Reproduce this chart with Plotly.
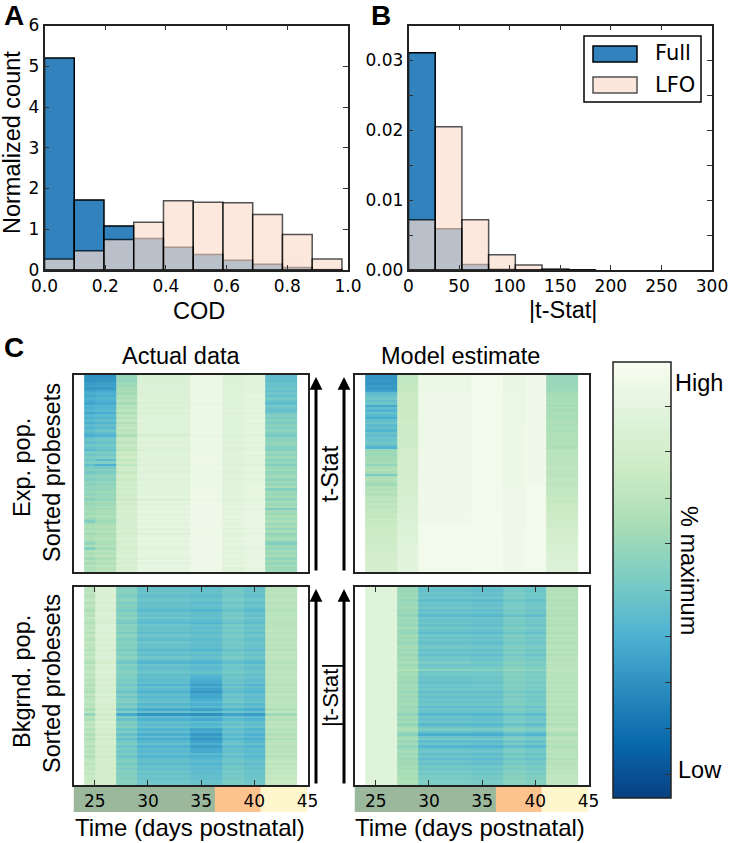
import plotly.graph_objects as go

W, H = 733, 843

# panel A
cod_edges = [0.0, 0.098, 0.196, 0.294, 0.392, 0.49, 0.588, 0.686, 0.784, 0.882]
cod_full = [5.2, 1.72, 1.08, 0.77, 0.56, 0.38, 0.24, 0.14, 0.06, 0.01]
cod_lfo = [0.27, 0.47, 0.75, 1.17, 1.7, 1.66, 1.65, 1.36, 0.87, 0.27]

# panel B
tstat_edges = [0, 26.4, 52.8, 79.2, 105.6, 132, 158.4]
tstat_full = [0.0311, 0.0059, 0.0008, 0.0001, 0.00003, 0.0, 0.0]
tstat_lfo = [0.0072, 0.0205, 0.0072, 0.0022, 0.0007, 0.00015, 0.00004]

# panel C, columns are the time points, rows go top to bottom
time_edges = [24, 25, 27, 29, 34, 37, 39, 41, 44]
row_edges = list(range(81))

actual_top = [
    [27, 27, 57, 84, 93, 85, 88, 42], [28, 28, 58, 84, 94, 86, 88, 43],
    [27, 28, 56, 83, 93, 85, 88, 42], [30, 31, 60, 85, 94, 86, 89, 45],
    [31, 32, 59, 84, 93, 86, 88, 44], [29, 30, 62, 85, 94, 87, 89, 46],
    [33, 35, 63, 85, 94, 86, 89, 44], [36, 37, 61, 84, 93, 86, 88, 47],
    [34, 36, 66, 86, 94, 87, 90, 43], [37, 39, 64, 85, 94, 86, 89, 48],
    [35, 37, 67, 86, 94, 87, 89, 45], [33, 35, 62, 84, 92, 85, 88, 42],
    [38, 40, 68, 87, 94, 87, 90, 49], [36, 38, 65, 85, 94, 86, 89, 46],
    [39, 41, 69, 86, 94, 87, 90, 44], [34, 36, 63, 84, 93, 85, 88, 47],
    [40, 42, 70, 87, 95, 88, 90, 52], [37, 39, 67, 85, 94, 86, 89, 49],
    [41, 43, 71, 87, 94, 87, 90, 53], [36, 39, 66, 85, 93, 86, 88, 50],
    [42, 44, 70, 86, 94, 87, 89, 54], [38, 40, 72, 87, 94, 87, 90, 51],
    [43, 46, 69, 85, 94, 86, 89, 55], [40, 43, 71, 86, 94, 87, 90, 52],
    [36, 38, 64, 82, 92, 84, 87, 49], [44, 46, 72, 87, 95, 87, 90, 56],
    [46, 48, 73, 87, 94, 87, 90, 54], [43, 45, 70, 86, 94, 86, 89, 57],
    [48, 49, 74, 88, 95, 88, 90, 56], [45, 47, 72, 86, 94, 86, 89, 53],
    [41, 44, 68, 84, 93, 85, 88, 51], [49, 50, 75, 88, 95, 88, 91, 58],
    [47, 48, 73, 87, 94, 87, 89, 55], [50, 51, 76, 88, 95, 88, 90, 59],
    [46, 42, 71, 86, 94, 86, 89, 54], [51, 52, 75, 87, 95, 87, 90, 57],
    [43, 37, 70, 85, 93, 85, 88, 52], [50, 49, 76, 88, 95, 88, 90, 58],
    [52, 53, 77, 88, 95, 88, 91, 60], [48, 50, 73, 86, 94, 86, 89, 56],
    [53, 54, 77, 88, 95, 88, 90, 59], [55, 56, 78, 89, 95, 88, 91, 61],
    [51, 53, 75, 87, 94, 86, 89, 55], [56, 57, 78, 89, 95, 88, 90, 60],
    [54, 55, 76, 87, 94, 87, 90, 57], [57, 58, 79, 89, 95, 89, 91, 62],
    [55, 57, 77, 88, 95, 87, 90, 53], [58, 60, 79, 89, 96, 89, 91, 60],
    [56, 58, 77, 87, 94, 87, 90, 58], [59, 60, 80, 90, 96, 89, 91, 61],
    [54, 57, 75, 84, 93, 86, 89, 55], [60, 62, 80, 90, 96, 89, 91, 63],
    [58, 60, 78, 88, 95, 88, 90, 59], [61, 63, 81, 90, 96, 90, 92, 62],
    [59, 61, 79, 89, 95, 88, 90, 51], [62, 64, 81, 90, 96, 90, 92, 61],
    [60, 62, 79, 88, 95, 88, 91, 58], [63, 65, 82, 90, 96, 90, 92, 63],
    [58, 62, 80, 89, 95, 88, 91, 60], [52, 60, 81, 90, 96, 90, 92, 64],
    [61, 64, 80, 89, 95, 88, 91, 59], [64, 66, 82, 91, 96, 90, 92, 62],
    [62, 64, 79, 88, 95, 88, 90, 57], [65, 67, 82, 90, 96, 90, 92, 63],
    [60, 63, 78, 85, 94, 87, 89, 55], [64, 66, 81, 90, 96, 89, 91, 60],
    [66, 68, 83, 91, 96, 90, 92, 63], [62, 65, 80, 89, 95, 88, 91, 58],
    [56, 64, 82, 90, 96, 90, 92, 52], [65, 67, 82, 90, 96, 89, 91, 60],
    [52, 62, 80, 89, 95, 88, 90, 57], [66, 68, 83, 91, 96, 90, 92, 62],
    [63, 66, 81, 90, 95, 89, 91, 59], [67, 69, 84, 91, 96, 90, 92, 63],
    [60, 64, 80, 89, 95, 88, 90, 56], [66, 68, 83, 91, 96, 90, 92, 61],
    [62, 65, 81, 89, 95, 88, 91, 57], [68, 70, 84, 92, 96, 90, 92, 62],
    [64, 67, 82, 90, 95, 86, 90, 58], [66, 69, 83, 91, 96, 87, 91, 60],
]

model_top = [
    [28, 28, 72, 94, 97, 92, 96, 58], [28, 28, 72, 94, 97, 92, 96, 58],
    [29, 29, 72, 94, 97, 92, 96, 58], [28, 28, 72, 94, 97, 92, 96, 59],
    [30, 30, 73, 94, 97, 92, 96, 59], [29, 29, 73, 94, 97, 92, 96, 59],
    [32, 32, 73, 94, 97, 93, 96, 60], [42, 42, 74, 95, 97, 93, 96, 61],
    [45, 45, 74, 95, 97, 93, 96, 62], [47, 47, 75, 95, 97, 93, 96, 63],
    [44, 44, 74, 95, 97, 93, 96, 62], [46, 46, 75, 95, 97, 93, 96, 63],
    [34, 34, 74, 95, 97, 93, 96, 61], [43, 43, 75, 95, 97, 93, 96, 63],
    [38, 38, 75, 95, 97, 93, 96, 62], [45, 45, 75, 95, 97, 93, 96, 64],
    [40, 40, 75, 95, 97, 93, 96, 63], [36, 36, 75, 95, 97, 93, 96, 62],
    [43, 43, 76, 95, 97, 93, 96, 64], [46, 46, 76, 95, 97, 93, 96, 65],
    [41, 41, 76, 95, 97, 94, 96, 64], [44, 44, 76, 95, 97, 94, 96, 65],
    [39, 39, 76, 95, 97, 94, 96, 63], [45, 45, 76, 95, 97, 94, 96, 65],
    [42, 42, 76, 95, 97, 94, 96, 65], [46, 46, 77, 95, 97, 94, 96, 66],
    [44, 44, 77, 95, 97, 94, 96, 65], [47, 47, 77, 95, 97, 94, 96, 66],
    [45, 45, 77, 95, 97, 94, 96, 66], [38, 38, 76, 95, 97, 94, 96, 64],
    [58, 58, 78, 95, 97, 94, 96, 68], [60, 60, 78, 95, 97, 94, 96, 68],
    [59, 59, 78, 95, 97, 94, 96, 68], [61, 61, 78, 96, 97, 94, 96, 69],
    [60, 60, 78, 96, 97, 94, 96, 68], [62, 62, 79, 96, 97, 94, 96, 69],
    [56, 56, 78, 96, 97, 94, 96, 68], [63, 63, 79, 96, 97, 94, 96, 70],
    [65, 65, 79, 96, 97, 94, 96, 70], [62, 62, 79, 96, 97, 94, 96, 69],
    [50, 50, 78, 96, 97, 94, 96, 68], [64, 64, 80, 96, 97, 94, 96, 70],
    [66, 66, 80, 96, 97, 94, 96, 71], [63, 63, 80, 96, 97, 94, 96, 70],
    [60, 60, 79, 96, 97, 94, 96, 69], [67, 67, 81, 96, 97, 95, 97, 71],
    [65, 65, 80, 96, 97, 95, 97, 71], [68, 68, 81, 96, 97, 95, 97, 72],
    [66, 66, 81, 96, 97, 95, 97, 71], [69, 69, 82, 96, 97, 95, 97, 73],
    [70, 70, 82, 96, 97, 95, 97, 73], [68, 68, 82, 96, 97, 95, 97, 72],
    [71, 71, 83, 96, 97, 95, 97, 74], [69, 69, 82, 96, 97, 95, 97, 74],
    [72, 72, 83, 96, 97, 95, 97, 75], [71, 71, 83, 96, 97, 95, 97, 75],
    [73, 73, 84, 96, 98, 95, 97, 76], [72, 72, 84, 96, 98, 95, 97, 76],
    [74, 74, 84, 96, 98, 95, 97, 77], [73, 73, 84, 96, 98, 95, 97, 76],
    [75, 75, 85, 97, 98, 95, 97, 78], [74, 74, 85, 97, 98, 95, 97, 77],
    [75, 75, 85, 97, 98, 95, 97, 78], [76, 76, 86, 97, 98, 96, 97, 79],
    [75, 75, 86, 97, 98, 96, 97, 79], [76, 76, 86, 97, 98, 96, 97, 80],
    [77, 77, 87, 97, 98, 96, 97, 80], [76, 76, 87, 97, 98, 96, 97, 80],
    [77, 77, 87, 97, 98, 96, 97, 81], [78, 78, 88, 97, 98, 96, 97, 82],
    [77, 77, 88, 97, 98, 96, 97, 81], [78, 78, 88, 97, 98, 96, 97, 82],
    [79, 79, 88, 97, 98, 96, 97, 83], [78, 78, 88, 97, 98, 96, 97, 83],
    [79, 79, 89, 97, 98, 96, 97, 84], [78, 78, 89, 97, 98, 96, 97, 84],
    [80, 80, 89, 97, 98, 96, 97, 85], [79, 79, 89, 97, 98, 96, 97, 85],
    [80, 80, 89, 97, 98, 96, 97, 85], [80, 80, 89, 97, 98, 96, 97, 85],
]

actual_bot = [
    [69, 84, 52, 44, 43, 47, 44, 68], [68, 83, 53, 45, 44, 48, 45, 68],
    [70, 85, 54, 46, 45, 49, 46, 69], [67, 83, 51, 43, 42, 47, 44, 68],
    [69, 85, 53, 45, 44, 49, 46, 69], [71, 84, 55, 46, 45, 50, 47, 70],
    [66, 82, 50, 43, 41, 46, 43, 67], [70, 85, 54, 45, 44, 49, 46, 69],
    [68, 83, 52, 44, 43, 47, 44, 68], [64, 81, 49, 41, 39, 45, 41, 66],
    [70, 84, 54, 45, 44, 49, 45, 69], [67, 84, 52, 44, 43, 48, 44, 68],
    [72, 85, 55, 47, 45, 50, 47, 70], [68, 82, 51, 43, 42, 47, 44, 68],
    [65, 81, 49, 41, 39, 45, 42, 67], [70, 85, 54, 46, 44, 49, 46, 69],
    [68, 83, 52, 44, 42, 47, 44, 68], [71, 85, 54, 45, 44, 49, 46, 70],
    [66, 82, 50, 42, 41, 46, 43, 68], [72, 86, 55, 47, 45, 50, 47, 70],
    [69, 83, 52, 44, 43, 48, 45, 69], [67, 82, 50, 42, 41, 46, 43, 68],
    [72, 85, 54, 46, 44, 49, 46, 70], [69, 84, 52, 44, 42, 47, 45, 69],
    [70, 84, 53, 45, 43, 48, 45, 69], [66, 81, 48, 40, 38, 44, 41, 67],
    [71, 84, 53, 45, 44, 48, 46, 70], [68, 83, 51, 43, 42, 47, 44, 69],
    [72, 85, 55, 47, 45, 50, 47, 70], [69, 82, 51, 43, 42, 46, 44, 69],
    [65, 80, 47, 39, 38, 43, 40, 67], [71, 84, 53, 45, 43, 48, 46, 70],
    [68, 82, 50, 43, 41, 46, 43, 68], [70, 83, 52, 44, 42, 47, 45, 69],
    [72, 85, 54, 46, 45, 49, 46, 70], [68, 81, 50, 42, 40, 45, 43, 68],
    [71, 83, 52, 44, 38, 47, 45, 70], [67, 81, 49, 41, 36, 45, 42, 68],
    [69, 83, 51, 43, 35, 46, 44, 69], [65, 80, 47, 38, 31, 42, 39, 67],
    [70, 83, 52, 44, 36, 47, 44, 70], [67, 81, 49, 41, 32, 44, 41, 68],
    [63, 79, 45, 37, 29, 41, 38, 66], [70, 83, 51, 43, 34, 46, 44, 70],
    [66, 80, 47, 40, 33, 44, 41, 68], [69, 83, 51, 43, 36, 46, 43, 69],
    [71, 84, 53, 45, 41, 48, 45, 70], [67, 80, 48, 40, 37, 43, 41, 68],
    [70, 83, 52, 44, 41, 47, 44, 70], [62, 78, 43, 35, 32, 39, 36, 65],
    [71, 83, 52, 45, 42, 47, 45, 71], [57, 76, 35, 28, 27, 32, 30, 60],
    [69, 81, 50, 42, 40, 45, 42, 69], [64, 78, 45, 37, 35, 41, 38, 66],
    [71, 83, 52, 44, 42, 47, 44, 70], [68, 80, 49, 41, 39, 44, 42, 68],
    [72, 83, 53, 45, 43, 48, 45, 71], [66, 79, 46, 38, 33, 42, 39, 67],
    [70, 82, 51, 43, 36, 46, 43, 69], [64, 77, 44, 36, 29, 41, 37, 66],
    [70, 81, 50, 42, 33, 45, 42, 69], [63, 77, 43, 35, 28, 39, 36, 65],
    [68, 80, 48, 40, 32, 44, 40, 68], [71, 81, 51, 44, 37, 47, 44, 70],
    [66, 78, 46, 38, 31, 42, 39, 67], [70, 80, 50, 42, 35, 45, 43, 69],
    [67, 78, 47, 40, 35, 43, 41, 68], [71, 80, 51, 44, 41, 47, 44, 70],
    [66, 77, 46, 39, 37, 43, 40, 67], [70, 79, 50, 43, 40, 46, 43, 70],
    [72, 80, 52, 44, 42, 47, 45, 71], [68, 78, 48, 41, 39, 44, 42, 69],
    [72, 79, 52, 45, 42, 48, 45, 72], [70, 78, 50, 43, 41, 46, 44, 70],
    [73, 80, 53, 46, 43, 49, 46, 72], [71, 78, 51, 44, 42, 47, 45, 71],
    [74, 79, 53, 46, 44, 49, 46, 73], [72, 78, 52, 45, 43, 48, 46, 72],
    [75, 79, 54, 47, 45, 50, 47, 74], [74, 78, 54, 47, 45, 50, 47, 73],
]

model_bot = [
    [87, 87, 59, 45, 44, 49, 47, 66], [87, 87, 58, 44, 43, 48, 46, 66],
    [87, 87, 60, 46, 45, 50, 48, 67], [87, 87, 59, 45, 44, 49, 47, 66],
    [87, 87, 61, 47, 46, 51, 48, 67], [87, 87, 57, 42, 41, 46, 44, 65],
    [87, 87, 60, 46, 45, 50, 48, 67], [87, 87, 59, 45, 44, 49, 47, 66],
    [87, 87, 61, 48, 47, 51, 49, 68], [87, 87, 58, 44, 43, 48, 46, 66],
    [87, 87, 60, 46, 45, 50, 48, 67], [87, 87, 56, 41, 40, 45, 43, 65],
    [87, 87, 61, 47, 46, 51, 49, 67], [87, 87, 59, 45, 44, 49, 47, 66],
    [87, 87, 60, 46, 45, 50, 48, 67], [87, 87, 58, 44, 43, 48, 46, 66],
    [87, 87, 62, 48, 47, 52, 50, 68], [87, 87, 59, 45, 44, 49, 47, 67],
    [87, 87, 57, 42, 41, 46, 44, 65], [87, 87, 61, 47, 46, 51, 49, 68],
    [87, 87, 59, 45, 44, 49, 47, 66], [87, 87, 61, 47, 46, 51, 49, 68],
    [87, 87, 58, 44, 43, 48, 46, 66], [87, 87, 60, 46, 45, 50, 48, 67],
    [87, 87, 62, 48, 47, 52, 50, 68], [87, 87, 59, 44, 43, 48, 46, 66],
    [87, 87, 61, 47, 46, 51, 49, 68], [87, 87, 58, 43, 42, 47, 45, 66],
    [87, 87, 61, 47, 46, 51, 49, 68], [87, 87, 60, 46, 45, 50, 48, 67],
    [87, 87, 63, 50, 48, 53, 51, 69], [87, 87, 60, 46, 46, 51, 49, 67],
    [87, 87, 62, 48, 48, 53, 51, 68], [87, 87, 66, 55, 53, 57, 55, 70],
    [87, 87, 61, 47, 47, 52, 50, 68], [87, 87, 62, 48, 49, 54, 52, 68],
    [87, 87, 60, 45, 46, 51, 49, 67], [87, 87, 61, 46, 47, 53, 51, 68],
    [87, 87, 59, 44, 45, 50, 48, 67], [87, 87, 62, 47, 48, 53, 51, 69],
    [87, 87, 60, 45, 46, 51, 49, 67], [87, 87, 61, 47, 47, 52, 50, 68],
    [87, 87, 58, 43, 43, 48, 46, 66], [87, 87, 61, 46, 46, 51, 49, 68],
    [87, 87, 59, 44, 44, 49, 47, 67], [87, 87, 61, 46, 46, 51, 49, 68],
    [87, 87, 60, 45, 45, 50, 48, 67], [87, 87, 62, 47, 47, 52, 50, 69],
    [87, 87, 58, 42, 42, 47, 45, 66], [87, 87, 61, 46, 46, 51, 49, 68],
    [87, 87, 60, 45, 44, 49, 47, 67], [87, 87, 56, 40, 39, 44, 42, 65],
    [87, 87, 61, 46, 45, 50, 48, 68], [87, 87, 59, 44, 43, 48, 46, 67],
    [87, 87, 62, 47, 46, 51, 49, 69], [87, 87, 57, 40, 40, 45, 43, 65],
    [87, 87, 61, 46, 45, 50, 48, 68], [87, 87, 64, 50, 49, 54, 51, 70],
    [87, 87, 60, 44, 43, 48, 46, 67], [87, 87, 54, 36, 36, 41, 39, 63],
    [87, 87, 60, 45, 44, 49, 47, 68], [87, 87, 63, 49, 48, 53, 50, 70],
    [87, 87, 58, 42, 41, 46, 44, 66], [87, 87, 61, 46, 45, 50, 48, 68],
    [87, 87, 56, 39, 38, 43, 41, 65], [87, 87, 60, 45, 44, 49, 47, 67],
    [87, 87, 62, 47, 46, 51, 49, 69], [87, 87, 59, 43, 42, 47, 45, 67],
    [87, 87, 61, 46, 45, 50, 48, 68], [87, 87, 58, 42, 41, 46, 44, 66],
    [87, 87, 61, 46, 45, 50, 48, 68], [87, 87, 60, 44, 43, 48, 46, 67],
    [87, 87, 62, 48, 47, 52, 50, 69], [87, 87, 61, 46, 45, 50, 48, 68],
    [87, 87, 63, 49, 48, 53, 51, 70], [87, 87, 62, 47, 46, 51, 49, 69],
    [87, 87, 64, 50, 49, 54, 52, 71], [87, 87, 63, 49, 48, 53, 51, 70],
    [87, 87, 65, 51, 50, 55, 53, 71], [87, 87, 64, 50, 49, 54, 52, 71],
]

gnbu_r = ["#084081", "#0868ac", "#2b8cbe", "#4eb3d3", "#7bccc4",
          "#a8ddb5", "#ccebc5", "#e0f3db", "#f7fcf0"]
cbar_ticks = [5.5, 16, 26.6, 37.1, 47.7, 58.3, 68.8, 79.4, 89.9]

band_edges = [23, 36.3, 40.6, 45]
band_colors = ["#9cb89c", "#fdc38f", "#fef6cd"]

BLUE = "#3182bd"
PEACH = "rgb(252,221,206)"
SANS = "Liberation Sans"
DEJA = "DejaVu Sans"
FRAME = "#222222"


def fx(px):
    return px / W


def fy(py):
    return 1 - py / H


fig = go.Figure()

# histograms
fig.add_bar(x=cod_edges, y=cod_full, width=0.098, offset=0, name="Full", xaxis="x", yaxis="y",
            marker=dict(color=BLUE, line=dict(color="black", width=1.5)))
fig.add_bar(x=cod_edges, y=cod_lfo, width=0.098, offset=0, name="LFO", xaxis="x", yaxis="y",
            marker=dict(color=PEACH, opacity=0.68, line=dict(color="black", width=1.5)))
fig.add_bar(x=tstat_edges, y=tstat_full, width=26.4, offset=0, name="Full", xaxis="x2", yaxis="y2",
            marker=dict(color=BLUE, line=dict(color="black", width=1.5)))
fig.add_bar(x=tstat_edges, y=tstat_lfo, width=26.4, offset=0, name="LFO", xaxis="x2", yaxis="y2",
            marker=dict(color=PEACH, opacity=0.68, line=dict(color="black", width=1.5)))

# heatmaps
panels = [(actual_top, "x3", "y3"), (model_top, "x4", "y4"),
          (actual_bot, "x5", "y5"), (model_bot, "x6", "y6")]
for z, xa, ya in panels:
    fig.add_heatmap(x=time_edges, y=row_edges, z=z, xaxis=xa, yaxis=ya, coloraxis="coloraxis")


def frame_axis(left, right, top=None, bottom=None, **kw):
    dom = [fx(left), fx(right)] if top is None else [fy(bottom), fy(top)]
    ax = dict(domain=dom, showline=True, linecolor=FRAME, linewidth=1.5, mirror="ticks",
              ticks="inside", ticklen=5, tickcolor="#333333", tickwidth=1, showgrid=False,
              zeroline=False, automargin=False, tickfont=dict(family=DEJA, size=17, color="black"))
    ax.update(kw)
    return ax


layout = dict(
    width=W, height=H, margin=dict(l=0, r=0, t=0, b=0, autoexpand=False), paper_bgcolor="white",
    plot_bgcolor="white", barmode="overlay", showlegend=False,
    coloraxis=dict(
        cmin=0, cmax=100, colorscale=gnbu_r,
        colorbar=dict(
            x=fx(613), xanchor="left", xpad=0, y=fy(362), yanchor="top", ypad=0,
            len=436, lenmode="pixels", thickness=58, thicknessmode="pixels",
            outlinecolor=FRAME, outlinewidth=1.5, tickmode="array", tickvals=cbar_ticks,
            ticks="inside", ticklen=6, tickcolor="#333333", showticklabels=False,
        ),
    ),
    xaxis=frame_axis(44.5, 348, anchor="y", range=[0, 1], tickvals=[0, 0.2, 0.4, 0.6, 0.8, 1.0],
                     ticktext=["0.0", "0.2", "0.4", "0.6", "0.8", "1.0"]),
    yaxis=frame_axis(0, 0, 25.5, 270, anchor="x", range=[0, 6], dtick=1),
    xaxis2=frame_axis(408.5, 712, anchor="y2", range=[0, 300], dtick=50),
    yaxis2=frame_axis(0, 0, 25.5, 270, anchor="x2", range=[0, 0.035],
                      tickvals=[0, 0.005, 0.01, 0.015, 0.02, 0.025, 0.03],
                      ticktext=["0.00", "", "0.01", "", "0.02", "", "0.03"]),
)

# heatmap axes
rows = {"3": (73.5, 307.5, 375, 572), "4": (354.5, 588.5, 375, 572),
        "5": (73.5, 307.5, 587, 785), "6": (354.5, 588.5, 587, 785)}
for key, (l, r, t, b) in rows.items():
    has_ticks = key in "56"
    layout["xaxis" + key] = frame_axis(
        l, r, anchor="y" + key, range=[23, 45], tickvals=[25, 30, 35, 40, 45],
        ticks="inside" if has_ticks else "", showticklabels=has_ticks)
    layout["yaxis" + key] = frame_axis(0, 0, t, b, anchor="x" + key, range=[80, 0], ticks="",
                                       showticklabels=False)
fig.update_layout(**layout)

# coloured age bands under the lower heatmaps
for xa in ["x5", "x6"]:
    for i, c in enumerate(band_colors):
        fig.add_shape(type="rect", xref=xa, yref="paper", x0=band_edges[i], x1=band_edges[i + 1],
                      y0=fy(812), y1=fy(785.5), fillcolor=c, line_width=0, layer="below")

# legend box for panel B
fig.add_shape(type="rect", xref="paper", yref="paper", x0=fx(584), x1=fx(701), y0=fy(102), y1=fy(36),
              fillcolor="white", line=dict(color="black", width=1.5))
fig.add_shape(type="rect", xref="paper", yref="paper", x0=fx(593), x1=fx(637), y0=fy(62), y1=fy(46),
              fillcolor=BLUE, line=dict(color="black", width=1.5))
fig.add_shape(type="rect", xref="paper", yref="paper", x0=fx(593), x1=fx(637), y0=fy(93), y1=fy(77),
              fillcolor=PEACH, opacity=0.68, line=dict(color="black", width=1.5))


def note(text, x, y, family=SANS, size=23.5, angle=0, bold=False):
    fig.add_annotation(text=f"<b>{text}</b>" if bold else text, x=fx(x), y=fy(y), xref="paper", yref="paper",
                       showarrow=False, textangle=angle, xanchor="center", yanchor="middle",
                       font=dict(family=family, size=size, color="black"))


note("A", 14, 15, size=28, bold=True)
note("B", 381, 15, size=28, bold=True)
note("C", 14, 347, size=28, bold=True)
note("Full", 673, 53, family=DEJA, size=21)
note("LFO", 675, 85, family=DEJA, size=21)
note("COD", 199, 311)
note("|t-Stat|", 563, 310)
note("Normalized count", 12, 143, angle=-90)
note("Actual data", 181, 356)
note("Model estimate", 460, 356)
note("Exp. pop.", 22, 468, angle=-90)
note("Sorted probesets", 52, 473, angle=-90)
note("Bkgrnd. pop.", 22, 682, angle=-90)
note("Sorted probesets", 52, 684, angle=-90)
note("t-Stat", 330, 474, angle=-90)
note("|t-Stat|", 330, 695, size=22, angle=-90)
note("Time (days postnatal)", 190, 827, size=24)
note("Time (days postnatal)", 470, 827, size=24)
note("High", 699, 383)
note("Low", 700, 770)
note("% maximum", 689, 570, angle=90)

# t-stat direction arrows
for ax_x in [316, 344]:
    for tip, tail in [(377, 572), (589, 785)]:
        fig.add_annotation(x=fx(ax_x), y=fy(tip), xref="paper", yref="paper", text="", showarrow=True,
                           ax=0, ay=tail - tip, axref="pixel", ayref="pixel", arrowhead=2, arrowsize=0.85,
                           arrowwidth=3, arrowcolor="black")

fig.write_html("out.html", config={"displayModeBar": False}, post_script="document.body.style.margin='0';")
